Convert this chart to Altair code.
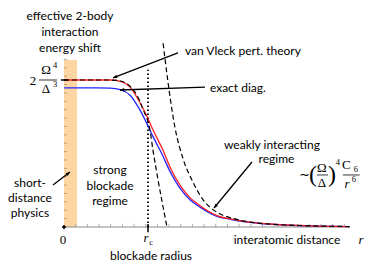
import math
import altair as alt
import pandas as pd

# ---------------- data ----------------
# interatomic distance r in units of r_c ; energy shift in units of 2*Omega^4/Delta^3
r_pts = [0, 0.3, 0.55, 0.67, 0.79, 0.9, 0.99, 1.06, 1.18, 1.26, 1.38, 1.5, 1.62, 1.82, 1.98, 2.21, 2.57, 2.93, 3.4]
red_v = [1.0, 1.0, 1.0, 0.99, 0.95, 0.85, 0.75, 0.66, 0.52, 0.41, 0.285, 0.2, 0.145, 0.078, 0.055, 0.033, 0.016, 0.008, 0.003]
blue_v = [0.946, 0.946, 0.945, 0.935, 0.895, 0.80, 0.70, 0.615, 0.48, 0.38, 0.265, 0.186, 0.135, 0.073, 0.052, 0.031, 0.015, 0.0075, 0.003]

vv_r = [0, 0.3, 0.55, 0.67, 0.79, 0.9, 0.94, 1.02, 1.06, 1.12, 1.226]
vv_v = [1.0, 1.0, 1.0, 0.993, 0.955, 0.86, 0.80, 0.67, 0.52, 0.32, 0.0]

c6_r = [1.18, 1.23, 1.32, 1.42, 1.54, 1.65, 1.77, 1.86, 2.0, 2.21, 2.57, 2.93, 3.4]
c6_v = [1.25, 1.02, 0.68, 0.46, 0.30, 0.19, 0.12, 0.088, 0.06, 0.034, 0.016, 0.008, 0.003]

r_c = 1.0
rc_line_top = 1.07
band_r = [0, 0.155]
band_v = [0, 1.136]
x_minor = [round(0.139 * k, 3) for k in range(1, 25)]
y_minor = [round(0.057 * k, 3) for k in range(1, 21)]

sans_text = ["effective 2-body", "interaction", "energy shift", "van Vleck pert. theory", "exact diag.",
             "weakly interacting", "regime", "strong", "blockade", "regime",
             "short-", "distance", "physics", "blockade radius", "interatomic distance"]
sans_x = [0.071, 0.071, 0.071, 2.13, 2.07, 2.476, 2.53, 0.548, 0.548, 0.548, -0.405, -0.405, -0.405, 1.036, 2.655]
sans_y = [1.435, 1.327, 1.218, 1.197, 0.946, 0.558, 0.463, 0.388, 0.279, 0.177, 0.299, 0.197, 0.095, -0.197, -0.088]

math_text = ["0", "2", "Ω", "Δ", "∼", "Ω", "Δ", "C"]
math_x = [-0.012, -0.369, -0.214, -0.214, 2.869, 3.071, 3.071, 3.36]
math_y = [-0.088, 0.993, 1.068, 0.939, 0.354, 0.401, 0.299, 0.42]

ital_text = ["r", "r", "r"]
ital_x = [0.976, 3.536, 3.37]
ital_y = [-0.075, -0.088, 0.29]

script_text = ["4", "3", "4", "6", "6", "c"]
script_x = [-0.107, -0.107, 3.262, 3.475, 3.45, 1.036]
script_y = [1.102, 0.973, 0.442, 0.395, 0.325, -0.102]

paren_text = ["(", ")"]
paren_x = [2.964, 3.19]
paren_y = [0.354, 0.354]

bar_x0 = [-0.298, 3.012, 3.32]
bar_x1 = [-0.083, 3.143, 3.52]
bar_y = [1.0, 0.354, 0.354]

arrow_x0 = [1.357, 1.679, 2.238, -0.131]
arrow_y0 = [1.184, 0.952, 0.442, 0.286]
arrow_x1 = [0.583, 0.667, 1.786, 0.071]
arrow_y1 = [1.014, 0.932, 0.129, 0.374]

# ---------------- chart ----------------
W, H = 286, 185
XD = [0, 3.405]
YD = [0, 1.2585]
PX_X = W / (XD[1] - XD[0])
PX_Y = H / (YD[1] - YD[0])
xs = alt.Scale(domain=XD, nice=False, zero=False)
ys = alt.Scale(domain=YD, nice=False, zero=False)


def ex(f):
    return alt.X(f"{f}:Q", scale=xs, axis=None)


def ey(f):
    return alt.Y(f"{f}:Q", scale=ys, axis=None)


def line(rr, vv, **kw):
    df = pd.DataFrame({"x": rr, "y": vv, "o": range(len(rr))})
    return alt.Chart(df).mark_line(interpolate="monotone", **kw).encode(
        x=ex("x"), y=ey("y"), order="o:Q")


def rules(x0, x1, y0, y1, **kw):
    df = pd.DataFrame({"x0": x0, "x1": x1, "y0": y0, "y1": y1})
    return alt.Chart(df).mark_rule(**kw).encode(x=ex("x0"), x2="x1", y=ey("y0"), y2="y1")


def texts(tt, xx, yy, **kw):
    df = pd.DataFrame({"t": tt, "x": xx, "y": yy})
    return alt.Chart(df).mark_text(baseline="middle", align="center", color="black", **kw).encode(
        x=ex("x"), y=ey("y"), text="t:N")


band = alt.Chart(pd.DataFrame({"x0": [band_r[0]], "x1": [band_r[1]], "y0": [band_v[0]], "y1": [band_v[1]]})).mark_rect(
    color="#fdd6a3").encode(x=ex("x0"), x2="x1", y=ey("y0"), y2="y1")

axis_line = rules([0], [XD[1]], [0], [0], color="#8a8a8a", strokeWidth=1)
xt = rules(x_minor, x_minor, [0] * len(x_minor), [0.022] * len(x_minor), color="#9a9a9a", strokeWidth=0.8)
yt = rules([0] * len(y_minor), [0.036] * len(y_minor), y_minor, y_minor, color="#b09070", strokeWidth=0.8)
rc_tick = rules([r_c], [r_c], [-0.035], [0.02], color="black", strokeWidth=1.5)
lvl_tick = rules([-0.036], [0.048], [1.0], [1.0], color="black", strokeWidth=1.5)
rc_line = rules([r_c], [r_c], [0], [rc_line_top], color="black", strokeWidth=1.8, strokeDash=[1.5, 2.5])
bars = rules(bar_x0, bar_x1, bar_y, bar_y, color="black", strokeWidth=0.8)

origin = alt.Chart(pd.DataFrame({"x": [0], "y": [0]})).mark_point(
    shape="M-0.5,0H0.5M0,-0.5V0.5", size=64, filled=False, color="black", strokeWidth=1.6, opacity=1
).encode(x=ex("x"), y=ey("y"))

blue = line(r_pts, blue_v, color="#2222ff", strokeWidth=1.3)
red = line(r_pts, red_v, color="#ff2020", strokeWidth=1.3)
vv = line(vv_r, vv_v, color="black", strokeWidth=1.2, strokeDash=[5, 3])
c6 = line(c6_r, c6_v, color="black", strokeWidth=1.2, strokeDash=[5, 3])

arr_rows = []
head_rows = []
for i, (a, b, c, d) in enumerate(zip(arrow_x0, arrow_y0, arrow_x1, arrow_y1)):
    arr_rows.append({"id": i, "o": 0, "x": a, "y": b})
    arr_rows.append({"id": i, "o": 1, "x": c, "y": d})
    ang = math.degrees(math.atan2((c - a) * PX_X, (d - b) * PX_Y)) % 360
    head_rows.append({"x": c, "y": d, "a": ang})
arrows = alt.Chart(pd.DataFrame(arr_rows)).mark_line(color="black", strokeWidth=1.3).encode(
    x=ex("x"), y=ey("y"), detail="id:N", order="o:Q")
heads = alt.Chart(pd.DataFrame(head_rows)).mark_point(
    shape="M0,0L-0.42,1L0.42,1Z", size=70, filled=True, color="black", opacity=1
).encode(x=ex("x"), y=ey("y"), angle=alt.Angle("a:Q", scale=None))

t_sans = texts(sans_text, sans_x, sans_y, font="Lato", fontSize=12)
t_math = texts(math_text, math_x, math_y, font="Liberation Serif", fontSize=13)
t_ital = texts(ital_text, ital_x, ital_y, font="Liberation Serif", fontSize=13, fontStyle="italic")
t_script = texts(script_text, script_x, script_y, font="Liberation Serif", fontSize=8.5)
t_paren = texts(paren_text, paren_x, paren_y, font="Liberation Serif", fontSize=24)

chart = alt.layer(
    band, yt, xt, axis_line, rc_line, blue, red, vv, c6, rc_tick, lvl_tick, origin,
    arrows, heads, bars, t_sans, t_math, t_ital, t_script, t_paren
).properties(
    width=W, height=H,
    autosize=alt.AutoSizeParams(type="none"),
    padding={"left": 56, "top": 34, "right": 16, "bottom": 36},
    background="white",
).configure_view(stroke=None)

chart.save("out.html", embed_options={"renderer": "svg", "actions": False})
